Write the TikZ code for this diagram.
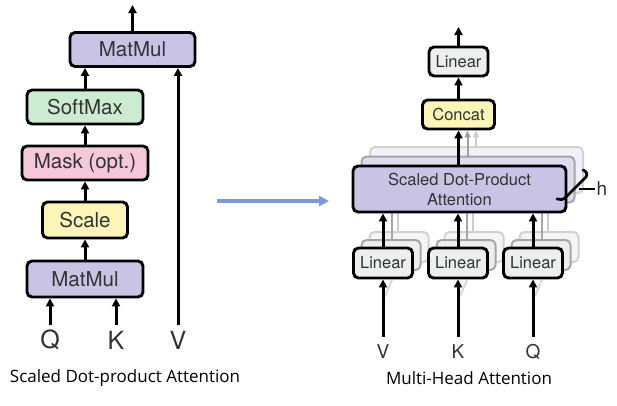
\documentclass[tikz,border=0pt]{standalone}
\usepackage{fontspec}
\setmainfont{TeX Gyre Heros}
\newfontfamily\capfont{Open Sans}
\usetikzlibrary{arrows.meta}
\definecolor{mmpurple}{HTML}{C9C4E6}
\definecolor{smgreen}{HTML}{CDEBD0}
\definecolor{mkpink}{HTML}{F5C8DA}
\definecolor{scyellow}{HTML}{FBF5B8}
\definecolor{lngray}{HTML}{EDEFEF}
\definecolor{txtdark}{HTML}{333333}
\definecolor{bluearrow}{HTML}{7B9BD8}
\tikzset{
  box/.style={draw=black, line width=2.9pt, rounded corners=5pt, inner sep=0pt, text=txtdark},
  bigbox/.style={box, font=\fontsize{20.5}{23}\selectfont},
  smallbox/.style={box, font=\fontsize{16.5}{19}\selectfont},
  backA/.style={draw=gray!70, fill=#1, line width=2pt, rounded corners=5pt, inner sep=0pt},
  backB/.style={draw=gray!35, fill=#1, line width=2pt, rounded corners=5pt, inner sep=0pt},
  arr/.style={-{Triangle[length=8pt,width=8pt]}, line width=3pt},
  garr/.style={-{Triangle[length=7pt,width=6pt]}, line width=2pt},
  lbl/.style={text=txtdark, inner sep=0pt},
  captext/.style={font=\capfont\fontsize{17}{20}\selectfont, inner sep=0pt}
}
\begin{document}
\begin{tikzpicture}[x=1pt,y=-1pt]
\useasboundingbox (0,0) rectangle (617,405);
\fill[white] (0,0) rectangle (617,405);

% ---------- Left: Scaled Dot-Product Attention ----------
\node[bigbox, fill=mmpurple, minimum width=125pt, minimum height=34pt] (mm2) at (132.5,49.5) {MatMul};
\node[bigbox, fill=smgreen, minimum width=116pt, minimum height=34pt] (sm) at (85,107) {SoftMax};
\node[bigbox, fill=mkpink, minimum width=126pt, minimum height=34pt] (mask) at (85,163) {Mask (opt.)};
\node[bigbox, fill=scyellow, minimum width=85pt, minimum height=36pt] (scale) at (85,220) {Scale};
\node[bigbox, fill=mmpurple, minimum width=116pt, minimum height=36pt] (mm1) at (85,279) {MatMul};

\node[lbl, font=\fontsize{25}{27}\selectfont] (lQ) at (50,340) {Q};
\node[lbl, font=\fontsize{25}{27}\selectfont] (lK) at (116,340) {K};
\node[lbl, font=\fontsize{25}{27}\selectfont] (lV) at (178,340) {V};

\coordinate (q0) at (50,325);
\coordinate (k0) at (116,325);
\coordinate (v0) at (178,325);
\coordinate (top1) at (132.5,5);

\draw[arr] (q0) -- (q0 |- mm1.south);
\draw[arr] (k0) -- (k0 |- mm1.south);
\draw[arr] (v0) -- (v0 |- mm2.south);
\draw[arr] (mm1.north) -- (scale.south);
\draw[arr] (scale.north) -- (mask.south);
\draw[arr] (mask.north) -- (sm.south);
\draw[arr] (sm.north) -- (sm.north |- mm2.south);
\draw[arr] (mm2.north) -- (top1);

\node[captext] (cap1) at (125,378) {Scaled Dot-product Attention};

% ---------- Middle arrow ----------
\coordinate (ma) at (217,201);
\coordinate (mb) at (329,201);
\draw[-{Triangle[length=10pt,width=10pt]}, line width=3.8pt, draw=bluearrow, fill=bluearrow] (ma) -- (mb);

% ---------- Right: Multi-Head Attention ----------
\node[backB=mmpurple!25, minimum width=213pt, minimum height=46pt] (sdpaC) at (476.5,170) {};
\node[backA=mmpurple!60, minimum width=213pt, minimum height=46pt] (sdpaB) at (468,179.5) {};

\foreach \n/\x in {V/383,K/458,Q/533}{
  \node[backB=lngray!60, minimum width=59pt, minimum height=30pt] (lin\n C) at (\x+16,247) {};
  \node[backA=lngray, minimum width=59pt, minimum height=30pt] (lin\n B) at (\x+8,255) {};
}

\foreach \n in {V,K,Q}{
  \draw[line width=2pt, gray!70] ([xshift=0.5pt]lin\n B.north) -- ([xshift=0.5pt]lin\n B.north |- sdpaB.south);
  \draw[line width=2pt, gray!40] ([xshift=-1pt]lin\n C.north) -- ([xshift=-1pt]lin\n C.north |- sdpaC.south);
}

\node[smallbox, fill=mmpurple, minimum width=213pt, minimum height=46pt, align=center, font=\fontsize{16.5}{20}\selectfont] (sdpa) at (459.5,189) {Scaled Dot-Product\\Attention};

\node[smallbox, fill=lngray, minimum width=59pt, minimum height=30pt] (linV) at (383,263) {Linear};
\node[smallbox, fill=lngray, minimum width=59pt, minimum height=30pt] (linK) at (458,263) {Linear};
\node[smallbox, fill=lngray, minimum width=59pt, minimum height=30pt] (linQ) at (533,263) {Linear};

\node[smallbox, fill=scyellow, minimum width=72pt, minimum height=29pt] (concat) at (458.5,114.5) {Concat};
\node[smallbox, fill=lngray, minimum width=59pt, minimum height=29pt] (lin) at (458.5,61.5) {Linear};

\node[lbl, font=\fontsize{19}{21}\selectfont] (rV) at (383,352) {V};
\node[lbl, font=\fontsize{19}{21}\selectfont] (rK) at (458,352) {K};
\node[lbl, font=\fontsize{19}{21}\selectfont] (rQ) at (533,352) {Q};

\coordinate (rv0) at (383,337);
\coordinate (rk0) at (458,337);
\coordinate (rq0) at (533,337);

\foreach \n/\x in {V/383,K/458,Q/533}{
  \draw[line width=2pt, gray!30] (\x+2,296) -- (\x+9,280);
}

\draw[arr] (rv0) -- (linV.south);
\draw[arr] (rk0) -- (linK.south);
\draw[arr] (rq0) -- (linQ.south);
\draw[arr] (linV.north) -- (linV.north |- sdpa.south);
\draw[arr] (linK.north) -- (linK.north |- sdpa.south);
\draw[arr] (linQ.north) -- (linQ.north |- sdpa.south);

\coordinate (g1) at (467.5,157);
\coordinate (g2) at (476,147);
\draw[garr, draw=gray!40, fill=gray!40] (g2) -- (g2 |- concat.south);
\draw[garr, draw=gray!75, fill=gray!75] (g1) -- (g1 |- concat.south);
\draw[arr] (sdpa.north -| concat.south) -- (concat.south);
\draw[arr] (concat.north) -- (lin.south);
\coordinate (top2) at (458.5,27);
\draw[arr] (lin.north) -- (top2);

\coordinate (hb0) at (583,170);
\coordinate (hb1) at (557,199);
\coordinate (ht0) at (579,189);
\draw[line width=2.8pt, line cap=round, line join=round] (hb0) .. controls (586,171) and (588,174) .. (586,177) -- (566,197) .. controls (563,200) and (560,200) .. (hb1);
\node[lbl, font=\fontsize{19}{21}\selectfont] (hl) at (602,189) {h};
\draw[line width=1.6pt] (ht0) -- ([xshift=-2pt]hl.west);

\node[captext] (cap2) at (469,378) {Multi-Head Attention};
\end{tikzpicture}
\end{document}
